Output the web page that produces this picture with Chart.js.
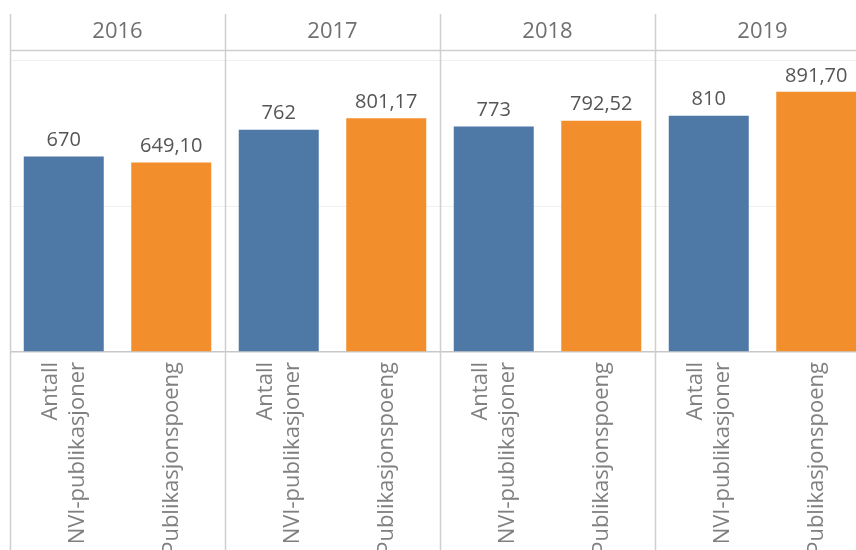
<!DOCTYPE html>
<html>
<head>
<meta charset="utf-8">
<script src="https://cdn.jsdelivr.net/npm/chart.js@4/dist/chart.umd.min.js"></script>
<style>
  body { margin: 0; background: #fff; overflow: hidden; }
  #wrap { width: 870px; height: 550px; }
</style>
</head>
<body>
<div id="wrap"><canvas id="chart"></canvas></div>
<script>
// --- Data ---
const years = ["2016", "2017", "2018", "2019"];
const measures = [["Antall", "NVI-publikasjoner"], ["Publikasjonspoeng"]];
const antall = [670, 762, 773, 810];
const poeng = [649.10, 801.17, 792.52, 891.70];
const yTicks = [0, 500, 1000];

const BLUE = "#4e79a7";
const ORANGE = "#f28e2b";
const FONT = "'Open Sans', 'Noto Sans', sans-serif";

// Interleave the two measures per year
const labels = [];
const values = [];
const colors = [];
years.forEach((y, i) => {
  labels.push(measures[0], measures[1]);
  values.push(antall[i], poeng[i]);
  colors.push(BLUE, ORANGE);
});

function fmt(v, i) {
  return i % 2 === 0 ? String(Math.round(v)) : v.toFixed(2).replace(".", ",");
}

// Panel dividers, headers, value labels and rotated category labels
const panelPlugin = {
  id: "panels",
  afterDraw(chart) {
    const ctx = chart.ctx;
    const x = chart.scales.x;
    const area = chart.chartArea;
    const step = x.getPixelForValue(1) - x.getPixelForValue(0);
    ctx.save();
    ctx.strokeStyle = "#cfcfcf";
    ctx.lineWidth = 1.5;
    for (let k = 0; k <= years.length; k++) {
      const px = Math.round(x.getPixelForValue(k * 2) - step / 2) + 0.5;
      ctx.beginPath();
      ctx.moveTo(px, 14);
      ctx.lineTo(px, chart.height);
      ctx.stroke();
    }
    ctx.beginPath();
    ctx.moveTo(area.left, area.top + 0.5);
    ctx.lineTo(area.right, area.top + 0.5);
    ctx.stroke();

    // year headers
    ctx.fillStyle = "#707070";
    ctx.font = "22px " + FONT;
    ctx.textAlign = "center";
    ctx.textBaseline = "middle";
    years.forEach((yr, k) => {
      const cx = (x.getPixelForValue(k * 2) + x.getPixelForValue(k * 2 + 1)) / 2;
      ctx.fillText(yr, cx, 32);
    });

    // value labels above bars
    const meta = chart.getDatasetMeta(0);
    ctx.fillStyle = "#555";
    ctx.font = "20px " + FONT;
    ctx.textBaseline = "bottom";
    meta.data.forEach((bar, i) => {
      ctx.fillText(fmt(values[i], i), bar.x, bar.y - 6);
    });

    // rotated category labels
    ctx.fillStyle = "#808080";
    ctx.font = "22px " + FONT;
    ctx.textAlign = "right";
    ctx.textBaseline = "middle";
    const lh = 27;
    labels.forEach((lines, i) => {
      const cx = x.getPixelForValue(i);
      lines.forEach((line, j) => {
        const off = (j - (lines.length - 1) / 2) * lh;
        ctx.save();
        ctx.translate(cx + off, area.bottom + 10);
        ctx.rotate(-Math.PI / 2);
        ctx.fillText(line, 0, 0);
        ctx.restore();
      });
    });
    ctx.restore();
  }
};

new Chart(document.getElementById("chart"), {
  type: "bar",
  data: {
    labels: labels,
    datasets: [{
      data: values,
      backgroundColor: colors,
      borderWidth: 0,
      categoryPercentage: 1,
      barPercentage: 80 / 107.5
    }]
  },
  options: {
    responsive: true,
    maintainAspectRatio: false,
    animation: false,
    layout: { padding: { left: 10, top: 50, right: 0, bottom: 0 } },
    plugins: { legend: { display: false }, tooltip: { enabled: false } },
    scales: {
      x: {
        grid: { display: false },
        border: { display: false },
        ticks: { display: false },
        afterFit: s => { s.height = 198; }
      },
      y: {
        min: 0,
        max: 1035,
        afterBuildTicks: s => { s.ticks = yTicks.map(v => ({ value: v })); },
        ticks: { display: false },
        border: { display: false },
        grid: {
          drawTicks: false,
          lineWidth: ctx => ctx.tick.value === 0 ? 1.5 : 1,
          color: ctx => ctx.tick.value === 0 ? "#c8c8c8" : "#f0f0f0"
        },
        afterFit: s => { s.width = 0; }
      }
    }
  },
  plugins: [panelPlugin]
});
</script>
</body>
</html>
